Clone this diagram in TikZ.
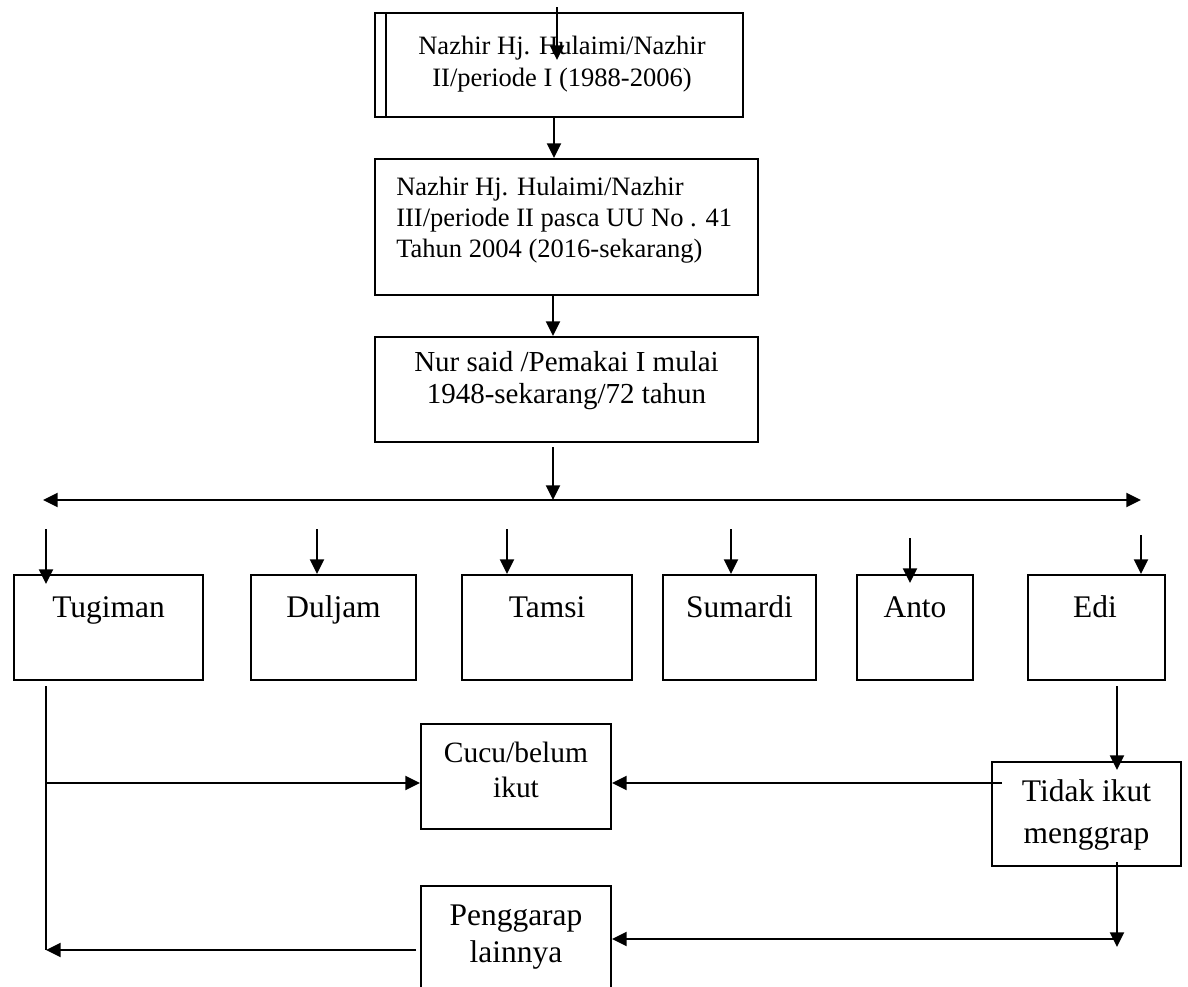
\documentclass[tikz,border=0pt]{standalone}
\usepackage{fontspec}
\setmainfont{Liberation Serif}
\usetikzlibrary{arrows.meta,calc}
\begin{document}
\begin{tikzpicture}[x=0.75pt,y=-0.75pt,
  box/.style={draw,line width=1.5pt,rectangle,inner sep=0pt},
  rowbox/.style={box,minimum height=78.75pt},
  lbl/.style={inner sep=0pt,align=center,anchor=base},
  fsmall/.style={font=\fontsize{19.9}{24}\selectfont},
  fmid/.style={font=\fontsize{21.75}{24}\selectfont},
  fbig/.style={font=\fontsize{23.6}{27.75}\selectfont},
  conn/.style={line width=1.5pt},
  arr/.style={conn,-{Triangle[length=11pt,width=10.5pt]}},
  darr/.style={conn,{Triangle[length=11pt,width=10.5pt]}-{Triangle[length=11pt,width=10.5pt]}}]
\useasboundingbox (0,0) rectangle (1188,986);
\clip (0,0) rectangle (1188,986);

% main chain
\node[box,minimum width=276pt,minimum height=78pt] (b1) at (559,65) {};
\draw[line width=1.5pt] ([xshift=9pt]b1.north west) -- ([xshift=9pt]b1.south west);
\node[box,minimum width=287.25pt,minimum height=102pt] (b2) at (566.5,227) {};
\node[box,minimum width=287.25pt,minimum height=78.75pt] (b3) at (566.5,389.5) {};

\node[lbl,fsmall] (t1) at (562,86) {Nazhir Hj. Hulaimi/Nazhir\\II/periode I (1988-2006)};
\node[lbl,align=left,anchor=base west,font=\fontsize{19.9}{23.25}\selectfont] (t2) at (396,257) {Nazhir Hj. Hulaimi/Nazhir\\III/periode II pasca UU No . 41\\Tahun 2004 (2016-sekarang)};
\node[lbl,fmid] (t3) at (566.5,403) {Nur said /Pemakai I mulai\\1948-sekarang/72 tahun};

% heirs
\node[rowbox,minimum width=141.75pt] (tg) at (108.5,627.5) {};
\node[rowbox,minimum width=123.75pt] (dj) at (333.5,627.5) {};
\node[rowbox,minimum width=127.5pt] (tm) at (547,627.5) {};
\node[rowbox,minimum width=114.75pt] (sm) at (739.5,627.5) {};
\node[rowbox,minimum width=87pt] (an) at (915,627.5) {};
\node[rowbox,minimum width=102.75pt] (ed) at (1096.5,627.5) {};
\node[lbl,fbig] (tgt) at (108.5,617) {Tugiman};
\node[lbl,fbig] (djt) at (333.5,617) {Duljam};
\node[lbl,fbig] (tmt) at (547,617) {Tamsi};
\node[lbl,fbig] (smt) at (739.5,617) {Sumardi};
\node[lbl,fbig] (ant) at (915,617) {Anto};
\node[lbl,fbig] (edt) at (1095,617) {Edi};

% lower level
\node[box,minimum width=142.5pt,minimum height=78.75pt] (cc) at (516,776.5) {};
\node[box,minimum width=142.5pt,minimum height=90pt] (pg) at (516,946) {};
\node[box,minimum width=141.75pt,minimum height=78pt] (td) at (1086.5,814) {};
\node[lbl,font=\fontsize{22.1}{26.25}\selectfont] (cct) at (516,797) {Cucu/belum\\ikut};
\node[lbl,font=\fontsize{23.6}{27.75}\selectfont] (pgt) at (516,962) {Penggarap\\lainnya};
\node[lbl,font=\fontsize{23.6}{31.5}\selectfont] (tdt) at (1086.5,843) {Tidak ikut\\menggrap};

% connectors of the chain
\coordinate (ain) at (557,7);
\coordinate (aend) at (557,60);
\draw[arr] (ain) -- (aend);
\coordinate (x1) at (554,0);
\coordinate (x2) at (553,0);
\draw[arr] (b1.south -| x1) -- (b2.north -| x1);
\draw[arr] (b2.south -| x2) -- (b3.north -| x2);
\coordinate (busL) at (43,500);
\coordinate (busR) at (1141,500);
\draw[arr] ([yshift=-3pt]b3.south -| x2) -- (busL -| x2);
\draw[darr] (busL) -- (busR);

% short arrows into the heirs
\coordinate (tgIn) at (46,529);   \coordinate (tgTip) at (46,584);
\coordinate (djIn) at (317,529);
\coordinate (tmIn) at (507,529);
\coordinate (smIn) at (731,529);
\coordinate (anIn) at (910,538);  \coordinate (anTip) at (910,583);
\coordinate (edIn) at (1141,535);
\draw[arr] (tgIn) -- (tgTip);
\draw[arr] (djIn) -- (djIn |- dj.north);
\draw[arr] (tmIn) -- (tmIn |- tm.north);
\draw[arr] (smIn) -- (smIn |- sm.north);
\draw[arr] (anIn) -- (anTip);
\draw[arr] (edIn) -- (edIn |- ed.north);

% Tugiman branch
\coordinate (tgL1) at (46,686);
\coordinate (tgMid) at (46,783);
\coordinate (tgL2) at (46,950);
\draw[conn] (tgL1) -- (tgL2);
\draw[arr] (tgMid) -- (tgMid -| cc.west);
\coordinate (pgL) at ([xshift=-3pt]pg.west);
\draw[arr] (pgL |- tgL2) -- (tgL2);

% Edi branch
\coordinate (edL1) at (1117,686);
\coordinate (tdTip) at (1117,770);
\draw[arr] (edL1) -- (tdTip);
\coordinate (tdL) at (1002,783);
\draw[arr] (tdL) -- (tdL -| cc.east);
\coordinate (tdB) at (1117,862);
\coordinate (tdB2) at (1117,947);
\draw[arr] (tdB) -- (tdB2);
\coordinate (pgR) at (1117,939);
\draw[arr] (pgR) -- (pgR -| pg.east);
\end{tikzpicture}
\end{document}
